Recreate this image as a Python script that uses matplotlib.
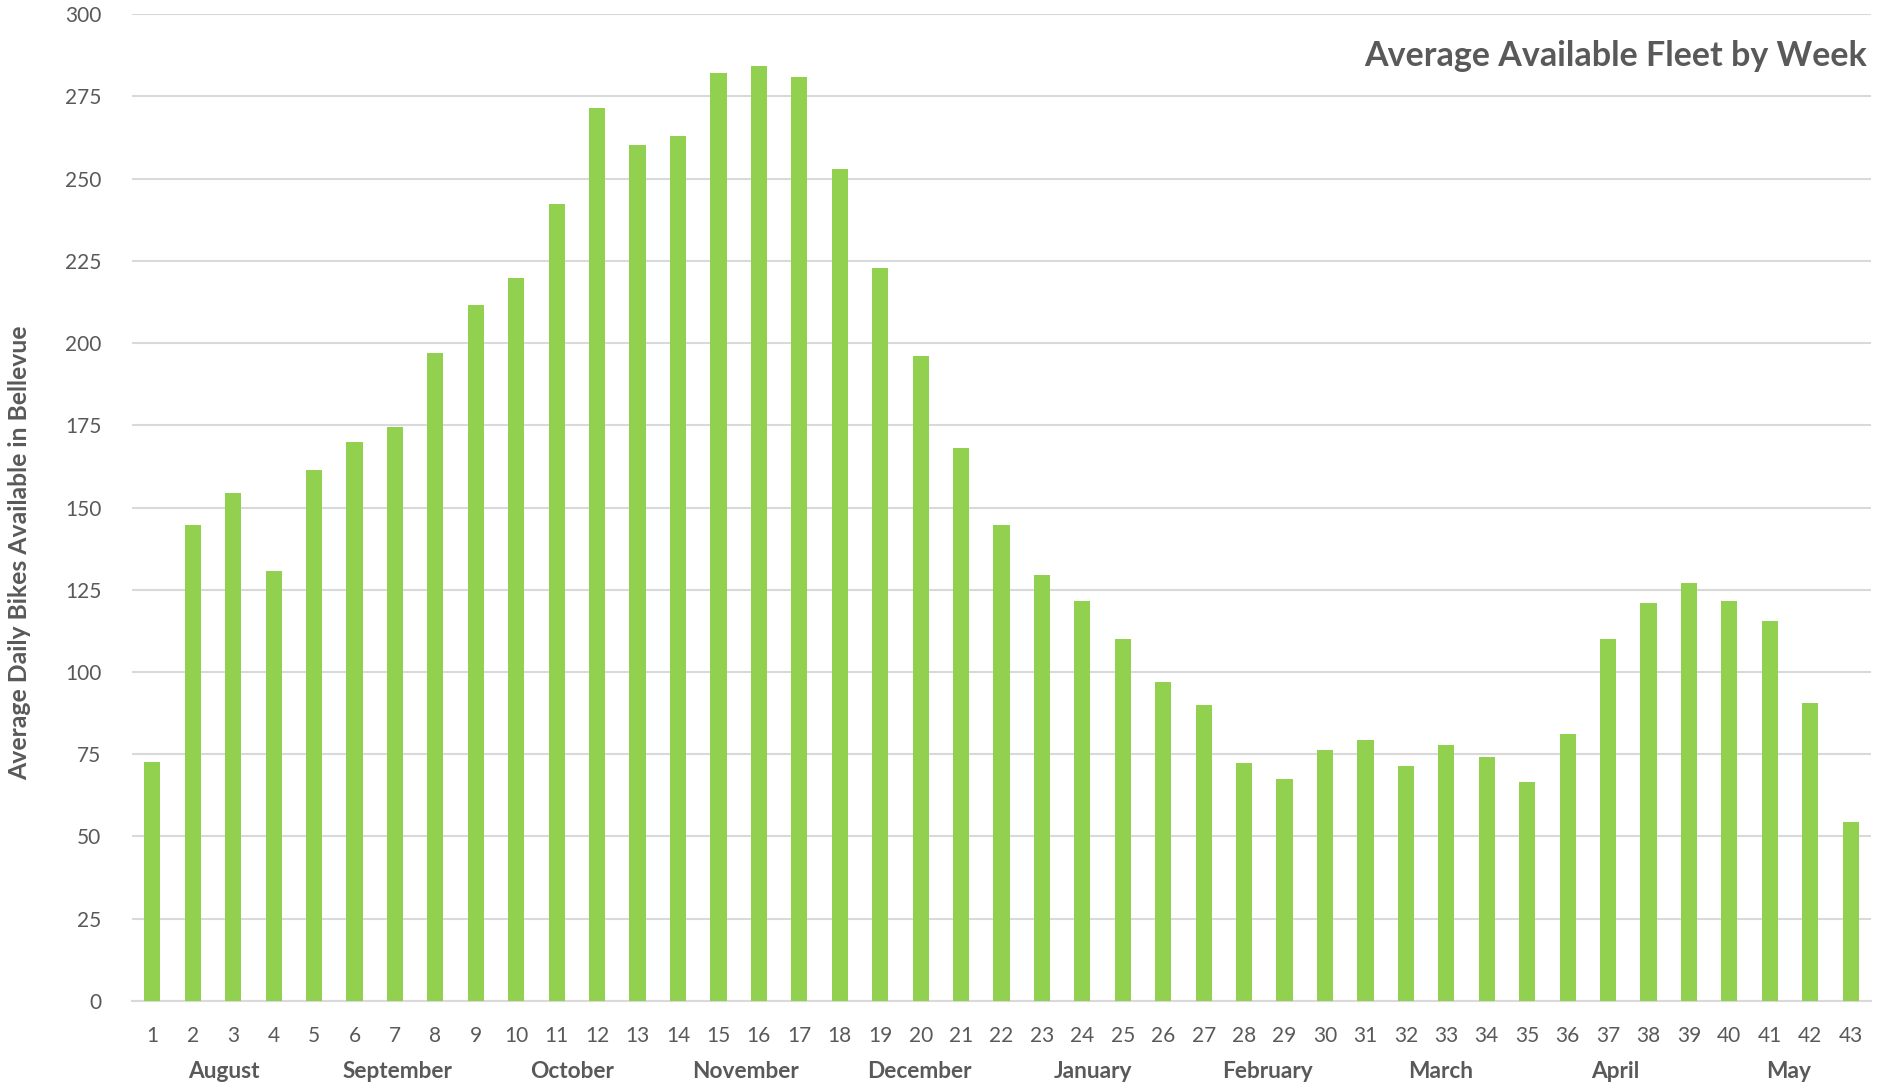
import matplotlib.pyplot as plt
import numpy as np

weeks = list(range(1, 44))
bikes = [72.7, 144.8, 154.4, 130.8, 161.5, 169.9, 174.4, 197.0, 211.5, 219.8,
         242.4, 271.4, 260.2, 262.8, 282.1, 284.1, 280.8, 252.9, 222.9, 196.0,
         168.0, 144.6, 129.5, 121.6, 110.0, 96.9, 89.9, 72.4, 67.4, 76.4,
         79.2, 71.3, 77.9, 74.2, 66.7, 81.2, 110.0, 120.9, 127.0, 121.6,
         115.5, 90.6, 54.3]
months = ['August', 'September', 'October', 'November', 'December',
          'January', 'February', 'March', 'April', 'May']

txt = '#595959'
plt.rcParams['font.family'] = ['Lato', 'DejaVu Sans']

fig = plt.figure(figsize=(18.79, 10.84), dpi=100)
ax = fig.add_axes([0.0703, 0.0766, 0.9254, 0.9104])

ax.bar(weeks, bikes, width=0.4, color='#92D050', zorder=3)

ax.set_xlim(0.5, 43.5)
ax.set_ylim(0, 300)
ax.set_yticks(np.arange(0, 301, 25))
ax.set_xticks(weeks)
ax.set_xticklabels([str(w) for w in weeks])
ax.grid(axis='y', color='#D9D9D9', linewidth=1.5, zorder=0)
ax.tick_params(axis='both', length=0, labelsize=15, colors=txt)
ax.tick_params(axis='x', pad=18)
ax.tick_params(axis='y', pad=22)
for s in ['top', 'right', 'left']:
    ax.spines[s].set_visible(False)
ax.spines['bottom'].set_color('#D9D9D9')
ax.spines['bottom'].set_linewidth(1.5)

# month labels evenly spread under the week numbers
n = len(weeks)
for k, m in enumerate(months):
    xc = 0.5 + n / len(months) * (k + 0.5) + 0.12
    ax.text(xc, -21.5, m, ha='center', va='center', fontsize=16.3,
            fontweight='bold', color=txt, transform=ax.transData, clip_on=False)

fig.text(0.9935, 1 - 56 / 1084, 'Average Available Fleet by Week', ha='right',
         va='center', fontsize=24.5, fontweight='bold', color=txt)
fig.text(20 / 1879, 1 - 553 / 1084, 'Average Daily Bikes Available in Bellevue',
         rotation=90, ha='center', va='center', fontsize=17.8, fontweight='bold',
         color=txt)

fig.savefig('out.png', dpi=100)
